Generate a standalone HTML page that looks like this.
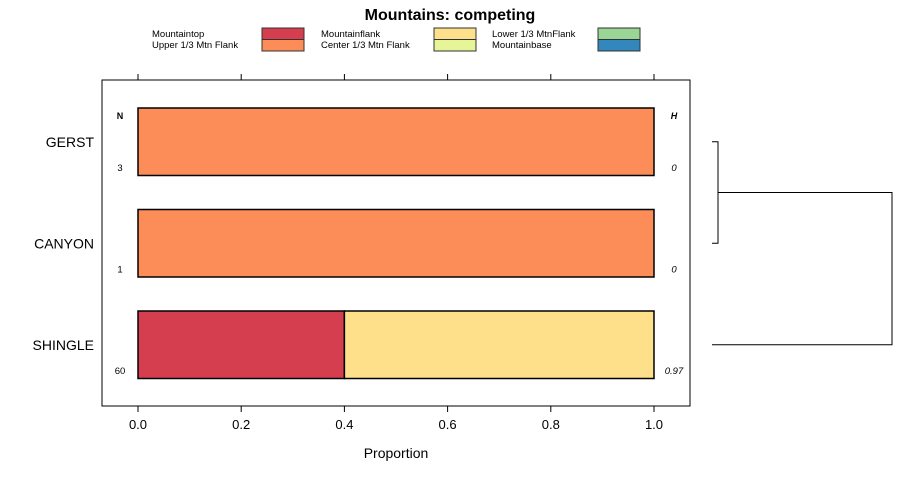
<!DOCTYPE html>
<html><head><meta charset="utf-8"><style>
body{margin:0;background:#fff;}
svg{font-family:"Liberation Sans",sans-serif;display:block}
</style></head><body>
<svg id="c" width="900" height="480">
<text x="450" y="20" text-anchor="middle" font-size="16" font-weight="bold">Mountains: competing</text>
<g id="legend"></g>
<rect x="102" y="80" width="588" height="326" fill="none" stroke="#000"/>
<g id="axes"></g>
<g id="bars"></g>
<text x="120" y="119" font-size="9" font-weight="bold" text-anchor="middle">N</text>
<text x="674" y="119" font-size="9" font-weight="bold" font-style="italic" text-anchor="middle">H</text>
<text x="396" y="458" font-size="14" text-anchor="middle">Proportion</text>
<g id="dendro" fill="none" stroke="#000"></g>
</svg>
<script>
const categories=["GERST","CANYON","SHINGLE"];
const nValues=[3,1,60];
const hValues=["0","0","0.97"];
const seriesNames=["Mountaintop","Upper 1/3 Mtn Flank","Mountainflank","Center 1/3 Mtn Flank","Lower 1/3 MtnFlank","Mountainbase"];
const seriesColors=["#d53e4f","#fc8d59","#fee08b","#e6f598","#99d594","#3288bd"];
const mountaintop=[0,0,0.4];
const upperFlank=[1,1,0];
const mountainflank=[0,0,0.6];
const centerFlank=[0,0,0];
const lowerFlank=[0,0,0];
const mountainbase=[0,0,0];
const xTicks=[0,0.2,0.4,0.6,0.8,1.0];
const xTickLabels=["0.0","0.2","0.4","0.6","0.8","1.0"];
const series=[mountaintop,upperFlank,mountainflank,centerFlank,lowerFlank,mountainbase];

const NS="http://www.w3.org/2000/svg";
function mk(t,a,p,txt){const e=document.createElementNS(NS,t);for(const k in a)e.setAttribute(k,a[k]);if(txt!==undefined)e.textContent=txt;p.appendChild(e);return e;}
const x=v=>138+v*516;
const y=i=>108+i*101.5;
const bh=67.5;

const lg=document.getElementById('legend');
const lcols=[[152,262],[321,434],[492,598]];
seriesNames.forEach((n,i)=>{
  const c=Math.floor(i/2),r=i%2;
  const t=mk('text',{x:lcols[c][0],y:37+r*11,'font-size':9.5},lg,n);
  
  
  const s=mk('rect',{x:lcols[c][1],y:28+r*11.5,width:42,height:11.5,fill:seriesColors[i],stroke:'#333','stroke-width':1},lg);
  
  
});

const ax=document.getElementById('axes');
xTicks.forEach((v,i)=>{
  const l1=mk('line',{x1:x(v),x2:x(v),y1:406,y2:412,stroke:'#000'},ax);
  
  
  const l2=mk('line',{x1:x(v),x2:x(v),y1:80,y2:74,stroke:'#000'},ax);
  
  
  const t=mk('text',{x:x(v),y:429,'font-size':13,'text-anchor':'middle'},ax,xTickLabels[i]);
  
  
});

const bg=document.getElementById('bars');
categories.forEach((c,i)=>{
  const cy=y(i)+bh/2;
  const t=mk('text',{x:94,y:cy+5,'font-size':14,'text-anchor':'end'},bg,c);
  
  
  let acc=0;
  series.forEach((s,k)=>{
    if(s[i]>0){
      const r=mk('rect',{x:x(acc),y:y(i),width:x(acc+s[i])-x(acc),height:bh,fill:seriesColors[k],stroke:'#000','stroke-width':1.5},bg);
      
      
      acc+=s[i];
    }
  });
  const n=mk('text',{x:120,y:y(i)+63,'font-size':9.5,'text-anchor':'middle'},bg,nValues[i]);
  
  
  const h=mk('text',{x:674,y:y(i)+63,'font-size':9.5,'font-style':'italic','text-anchor':'middle'},bg,hValues[i]);
  
  
});

const dg=document.getElementById('dendro');
const c0=y(0)+bh/2,c1=y(1)+bh/2,c2=y(2)+bh/2,m=(c0+c1)/2;
const p=mk('path',{d:`M712 ${c0}H718V${c1}H712 M718 ${m}H892V${c2}H712`},dg);


</script>
</body></html>
